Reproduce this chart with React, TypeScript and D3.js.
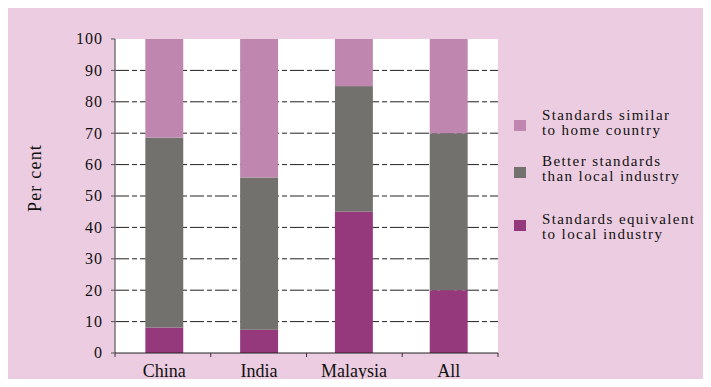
import React, { useEffect, useRef } from "react";
import * as d3 from "d3";

const categories = ["China", "India", "Malaysia", "All"];
const equivalentLocal = [8.1, 7.4, 45, 20];
const betterLocal = [60.5, 48.5, 40, 50];
const similarHome = [31.4, 44.1, 15, 30];
const yTicks = [0, 10, 20, 30, 40, 50, 60, 70, 80, 90, 100];

const seriesKeys = ["equivalent", "better", "similar"];
const seriesColors = ["#96387C", "#72716D", "#BF86AF"];
const legendItems = [
  { lines: ["Standards similar", "to home country"], color: "#BF86AF" },
  { lines: ["Better standards", "than local industry"], color: "#72716D" },
  { lines: ["Standards equivalent", "to local industry"], color: "#96387C" },
];

const W = 711;
const H = 387;
const M = { left: 115, right: 213, top: 39, bottom: 34 };

export default function App() {
  const ref = useRef<SVGSVGElement>(null);

  useEffect(() => {
    const svg = d3.select(ref.current);
    svg.selectAll("*").remove();

    const font = "'Liberation Serif', 'Times New Roman', serif";
    svg.append("rect").attr("width", W).attr("height", H).attr("fill", "#ECCCE0");

    const x = d3.scaleBand().domain(categories).range([M.left, W - M.right]).paddingInner(0.6).paddingOuter(0.32);
    const xBand = d3.scaleBand().domain(categories).range([M.left, W - M.right]);
    const y = d3.scaleLinear().domain([0, 100]).range([H - M.bottom, M.top]);

    svg.append("rect")
      .attr("x", M.left).attr("y", M.top)
      .attr("width", W - M.right - M.left).attr("height", H - M.bottom - M.top)
      .attr("fill", "#ffffff");

    // dash-dot gridlines
    svg.append("g").selectAll("line").data(yTicks.filter((t) => t > 0 && t < 100)).join("line")
      .attr("x1", M.left).attr("x2", W - M.right)
      .attr("y1", (d) => y(d)).attr("y2", (d) => y(d))
      .attr("stroke", "#222").attr("stroke-width", 1)
      .attr("stroke-dasharray", "14,3,5,3");

    const rows = categories.map((c, i) => ({
      cat: c,
      equivalent: equivalentLocal[i],
      better: betterLocal[i],
      similar: similarHome[i],
    }));
    const stacked = d3.stack<any>().keys(seriesKeys)(rows);

    svg.append("g").selectAll("g").data(stacked).join("g")
      .attr("fill", (_d, i) => seriesColors[i])
      .selectAll("rect").data((d) => d).join("rect")
      .attr("x", (d: any) => x(d.data.cat)!)
      .attr("width", x.bandwidth())
      .attr("y", (d) => y(d[1]))
      .attr("height", (d) => y(d[0]) - y(d[1]));

    // y axis
    const yAxis = svg.append("g").attr("transform", `translate(${M.left},0)`);
    yAxis.append("line").attr("x1", 0).attr("x2", 0).attr("y1", M.top).attr("y2", y(0)).attr("stroke", "#777").attr("stroke-width", 1.5);
    yAxis.selectAll("line.t").data(yTicks).join("line").attr("class", "t")
      .attr("x1", -4).attr("x2", 0).attr("y1", (d) => y(d)).attr("y2", (d) => y(d))
      .attr("stroke", "#555");
    yAxis.selectAll("text").data(yTicks).join("text")
      .attr("x", -12).attr("y", (d) => y(d)).attr("dy", "0.34em")
      .attr("text-anchor", "end").attr("font-family", font).attr("font-size", 16)
      .attr("letter-spacing", 1).attr("fill", "#111")
      .text((d) => d);

    // x axis
    const xAxis = svg.append("g");
    xAxis.append("line").attr("x1", M.left).attr("x2", W - M.right).attr("y1", y(0)).attr("y2", y(0)).attr("stroke", "#222").attr("stroke-width", 1);
    const bounds = [...categories.map((c) => xBand(c)!), W - M.right];
    xAxis.selectAll("line.t").data(bounds).join("line").attr("class", "t")
      .attr("x1", (d) => d).attr("x2", (d) => d).attr("y1", y(0)).attr("y2", y(0) + 4)
      .attr("stroke", "#333");
    xAxis.selectAll("text").data(categories).join("text")
      .attr("x", (d) => x(d)! + x.bandwidth() / 2).attr("y", y(0) + 24)
      .attr("text-anchor", "middle").attr("font-family", font).attr("font-size", 18).attr("fill", "#111")
      .text((d) => d);

    svg.append("text")
      .attr("transform", `translate(41,178) rotate(-90)`)
      .attr("text-anchor", "middle").attr("font-family", font).attr("font-size", 18)
      .attr("letter-spacing", 1.2).attr("fill", "#111")
      .text("Per cent");

    const lg = svg.append("g");
    const swatchY = [120, 167, 220];
    const baseY = [120, 166, 224];
    legendItems.forEach((it, i) => {
      lg.append("rect").attr("x", 514).attr("y", swatchY[i]).attr("width", 12).attr("height", 11).attr("fill", it.color);
      it.lines.forEach((ln, j) => {
        lg.append("text").attr("x", 542).attr("y", baseY[i] + j * 15)
          .attr("font-family", font).attr("font-size", 15).attr("letter-spacing", 1.4)
          .attr("fill", "#111").text(ln);
      });
    });
  }, []);

  return <svg ref={ref} width={W} height={H} style={{ display: "block", margin: "-8px" }} />;
}
